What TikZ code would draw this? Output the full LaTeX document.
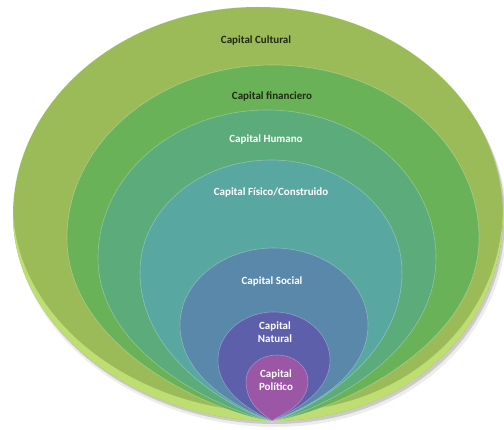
\documentclass[tikz,border=0pt]{standalone}
\usepackage{fontspec}
\setmainfont{Carlito}
\definecolor{cCult}{HTML}{9BBB59}
\definecolor{cFin}{HTML}{69B257}
\definecolor{cHum}{HTML}{5CAB7B}
\definecolor{cFis}{HTML}{58A7A0}
\definecolor{cSoc}{HTML}{5A88AA}
\definecolor{cNat}{HTML}{5E5FAA}
\definecolor{cPol}{HTML}{9B56A6}
\definecolor{cRim}{HTML}{BEDD72}
\definecolor{cDark}{HTML}{1E2A12}
\def\bx{272}
\def\by{421}
% #1 cx, #2 cy, #3 rx, #4 ry, #5 a, #6 q, #7 h
\newcommand{\tdpath}[7]{({#1-#3},{#2}) .. controls ({#1-#3},{#2-0.552*#4}) and ({#1-0.552*#3},{#2-#4}) .. ({#1},{#2-#4}) .. controls ({#1+0.552*#3},{#2-#4}) and ({#1+#3},{#2-0.552*#4}) .. ({#1+#3},{#2}) .. controls ({#1+#3},{#2+#5*(\by-#2)}) and ({\bx+#6*#3},{\by-#7}) .. (\bx,\by) .. controls ({\bx-#6*#3},{\by-#7}) and ({#1-#3},{#2+#5*(\by-#2)}) .. cycle}
\tikzset{
  lbl/.style={font=\fontsize{11}{12.5}\selectfont\bfseries, text=white, align=center},
  dlbl/.style={lbl, text=cDark},
  ring/.style={draw=white, draw opacity=0.3, line width=0.6pt}
}
\begin{document}
\begin{tikzpicture}[x=1pt,y=-1pt]
\useasboundingbox (0,0) rectangle (504,430);
% shadow
\begin{scope}[shift={(3,6)}]
\fill[black, opacity=0.07] \tdpath{258}{215}{246}{208}{0.552}{0.552}{0};
\end{scope}
\begin{scope}[shift={(2,3)}]
\fill[black, opacity=0.15] \tdpath{258}{215}{245}{208}{0.552}{0.552}{0};
\end{scope}
% outer bowl
\fill[cCult] \tdpath{258}{215}{245}{208}{0.552}{0.552}{0};
\begin{scope}
\clip \tdpath{258}{215}{245}{208}{0.552}{0.552}{0};
\fill[cRim, even odd rule] \tdpath{258}{215}{245}{208}{0.552}{0.552}{0}
  [shift={(0,-9)}] \tdpath{258}{215}{245}{208}{0.552}{0.552}{0};
\end{scope}
% inner layers
\fill[cFin, ring] \tdpath{273}{238}{206}{173}{0.62}{0.25}{6};
\fill[cHum, ring] \tdpath{267}{258}{169}{148}{0.62}{0.22}{6};
\fill[cFis, ring] \tdpath{271}{272}{131}{112}{0.62}{0.2}{6};
\fill[cSoc, ring] \tdpath{274}{325}{94}{77}{0.62}{0.18}{6};
\fill[cNat, ring] \tdpath{274}{360}{56}{48}{0.62}{0.15}{5};
\fill[cPol, ring] \tdpath{277}{381}{31}{26}{0.65}{0.15}{5};
% labels
\node[dlbl] (cult) at (256,41) {Capital Cultural};
\node[dlbl] (fin) at (272,97) {Capital financiero};
\node[lbl] (hum) at (266,140) {Capital Humano};
\node[lbl] (fis) at (271,193) {Capital Físico/Construido};
\node[lbl] (soc) at (272,282) {Capital Social};
\node[lbl] (nat) at (275,332) {Capital\\Natural};
\node[lbl] (pol) at (276,380) {Capital\\Político};
\end{tikzpicture}
\end{document}
